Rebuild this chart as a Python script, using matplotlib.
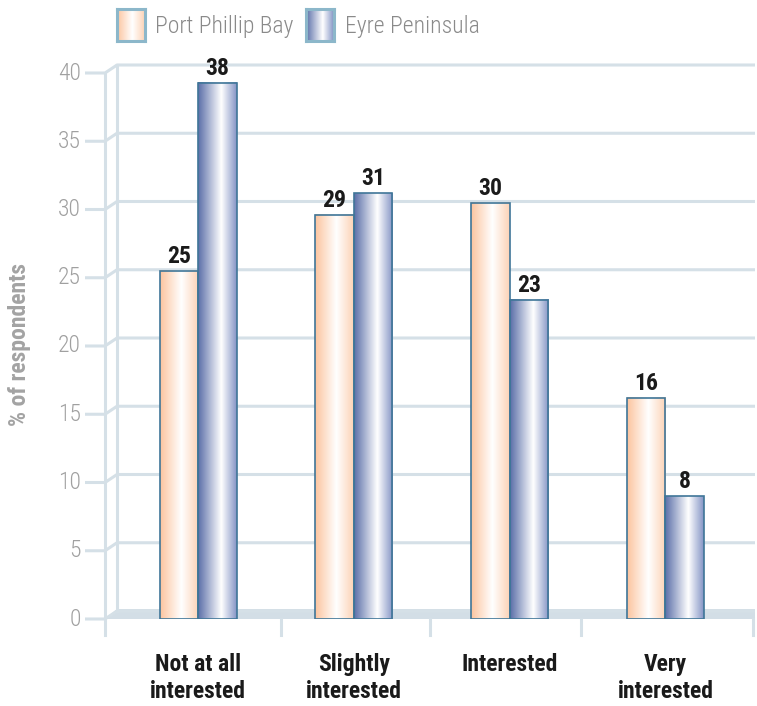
import numpy as np
import matplotlib
matplotlib.use("Agg")
import matplotlib.pyplot as plt
from matplotlib.colors import LinearSegmentedColormap
from matplotlib.patches import Rectangle, Polygon

plt.rcParams['font.family'] = ['Roboto Condensed', 'DejaVu Sans']

categories = ["Not at all\ninterested", "Slightly\ninterested", "Interested", "Very\ninterested"]
series_names = ["Port Phillip Bay", "Eyre Peninsula"]
# bar heights as drawn in the picture, and the printed labels
port_phillip = [25.5, 29.6, 30.5, 16.2]
eyre = [39.3, 31.2, 23.4, 9.0]
port_phillip_lbl = ["25", "29", "30", "16"]
eyre_lbl = ["38", "31", "23", "8"]
yticks = [0, 5, 10, 15, 20, 25, 30, 35, 40]

W, H = 757, 706
fig = plt.figure(figsize=(W / 100, H / 100), dpi=100)
ax = fig.add_axes([105 / W, (H - 619) / H, 650 / W, (619 - 73) / H])
x0, x1 = -0.597, 3.575
ax.set_xlim(x0, x1)
ax.set_ylim(0, 40)
ax.axis('off')

pxx = 650 / (x1 - x0)   # pixels per category unit
pxy = (619 - 73) / 40   # pixels per value unit
dx = 12 / pxx
dy = 8 / pxy
tl = 20 / pxx
grid_c = '#d5e0e7'

# floor
ax.add_patch(Polygon([(x0, 0), (x0 + dx, 10 / pxy), (x1, 10 / pxy), (x1, 0)], closed=True,
                     facecolor='#d3dee6', edgecolor='none', zorder=1, clip_on=False))

# grid lines with 3d offset
for v in yticks:
    ax.plot([x0 - tl, x0, x0 + dx, x1], [v, v, v + dy, v + dy], color=grid_c,
            lw=2.2, solid_capstyle='butt', clip_on=False, zorder=1)
    ax.text(x0 - tl - 4 / pxx, v, str(v), ha='right', va='center',
            fontsize=17, fontweight=300, color='#a0a0a0')

# axis verticals
ax.plot([x0, x0], [-16 / pxy, 40], color=grid_c, lw=2.2, clip_on=False, zorder=1)
ax.plot([x0 + dx, x0 + dx], [dy, 40 + dy], color=grid_c, lw=2.2, clip_on=False, zorder=1)
for b in [0.53, 1.49, 2.46, x1 - 0.01]:
    ax.plot([b, b], [-16 / pxy, 0], color=grid_c, lw=2.2, clip_on=False, zorder=1)

peach = LinearSegmentedColormap.from_list('pp', [(0, '#fcc49e'), (0.55, '#ffffff'), (1, '#fcd2b5')])
blue = LinearSegmentedColormap.from_list('bl', [(0, '#5a6ea8'), (0.6, '#ffffff'), (1, '#8494c5')])
grad = np.linspace(0, 1, 256).reshape(1, -1)
w = 38.5 / pxx
edge_c = '#3f7698'

for i in range(len(categories)):
    for vals, lbls, cmap, off in [(port_phillip, port_phillip_lbl, peach, -w),
                                  (eyre, eyre_lbl, blue, 0)]:
        l = i + off
        h = vals[i]
        ax.imshow(grad, cmap=cmap, extent=[l, l + w, 0, h], aspect='auto', zorder=3)
        ax.add_patch(Rectangle((l, 0), w, h, facecolor='none', edgecolor=edge_c,
                               lw=1.2, zorder=4))
        ax.text(l + w / 2, h + 3 / pxy, lbls[i], ha='center', va='bottom',
                fontsize=17, fontweight='bold', color='#1a1a1a')
    ax.text(i, -34 / pxy, categories[i], ha='center', va='top', fontsize=17,
            fontweight='bold', color='#1a1a1a', linespacing=1.2)

ax.set_xlim(x0, x1)
ax.set_ylim(0, 40)

fig.text(20 / W, 1 - 345 / H, "% of respondents", rotation=90, ha='center', va='center',
         fontsize=17, fontweight='bold', color='#a3a3a3')

# legend
for bx, tx, cmap, name in [(117, 155, peach, series_names[0]), (306, 345, blue, series_names[1])]:
    lax = fig.add_axes([bx / W, (H - 41) / H, 28 / W, 32 / H])
    lax.imshow(grad, cmap=cmap, aspect='auto')
    lax.set_xticks([])
    lax.set_yticks([])
    for s in lax.spines.values():
        s.set_color('#8cb7ca')
        s.set_linewidth(2.2)
    fig.text(tx / W, 1 - 27 / H, name, ha='left', va='center', fontsize=17,
             fontweight=300, color='#8a8a8a')

fig.savefig('out.png', dpi=100)
